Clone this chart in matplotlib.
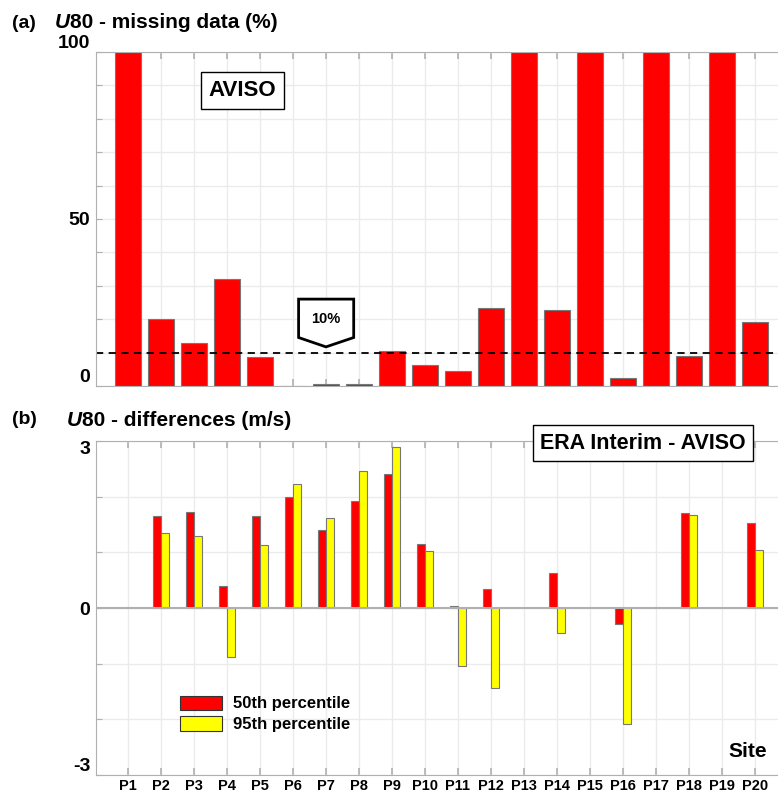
import numpy as np
import matplotlib.pyplot as plt
from matplotlib.patches import Polygon

plt.rcParams['font.family'] = ['Liberation Sans', 'DejaVu Sans']
plt.rcParams['font.weight'] = 'bold'

SITES = ["P%d" % i for i in range(1, 21)]

# U80 missing data (%) from AVISO
MISSING = [100, 20, 12.8, 32, 8.8, 0, 0.5, 0.5, 10.4, 6.3,
           4.6, 23.4, 100, 22.8, 100, 2.3, 100, 9.0, 100, 19.0]
THRESHOLD = 10

# ERA Interim - AVISO differences (m/s); None = no data
P50 = [None, 1.65, 1.72, 0.40, 1.65, 1.99, 1.40, 1.93, 2.41, 1.15,
       0.04, 0.34, None, 0.63, None, -0.29, None, 1.70, None, 1.53]
P95 = [None, 1.34, 1.29, -0.88, 1.13, 2.22, 1.61, 2.46, 2.90, 1.03,
       -1.05, -1.44, None, -0.44, None, -2.08, None, 1.67, None, 1.04]

GRID = '#ebebeb'
SPINE = '#b0b0b0'
EDGE = '#777777'

x = np.arange(1, len(SITES) + 1)

fig = plt.figure(figsize=(7.78, 7.94), dpi=100)
ax1 = fig.add_axes([0.1234, 0.5139, 0.8766, 0.4207])
ax2 = fig.add_axes([0.1234, 0.0239, 0.8766, 0.4207])


def style_axes(ax):
    ax.set_xlim(0.03, 20.7)
    ax.set_xticks(x)
    ax.grid(True, color=GRID, lw=1)
    ax.set_axisbelow(True)
    for side in ('top', 'left', 'bottom'):
        ax.spines[side].set_color(SPINE)
    ax.spines['right'].set_visible(False)
    ax.tick_params(axis='x', direction='in', top=True, bottom=True,
                   color=SPINE, length=5, width=1.2)
    ax.tick_params(axis='y', direction='in', left=True, right=False,
                   color=SPINE, length=4, labelsize=14, pad=4)


# (a) missing data
style_axes(ax1)
ax1.bar(x, MISSING, width=0.8, color='#ff0000', edgecolor=EDGE, lw=0.8)
ax1.set_ylim(0, 100)
ax1.set_yticks(np.arange(0, 101, 10))
ax1.set_yticklabels([str(v) if v in (0, 50, 100) else '' for v in range(0, 101, 10)])
ax1.get_yticklabels()[0].set_va('bottom')
ax1.get_yticklabels()[-1].set_va('bottom')
ax1.tick_params(axis='x', labelbottom=False)
ax1.axhline(THRESHOLD, color='black', ls=(0, (4, 3)), lw=1.3)

# callout marker pointing at the threshold line over P7
cx = 7
ax1.add_patch(Polygon([(cx - 0.83, THRESHOLD + 16), (cx + 0.84, THRESHOLD + 16),
                       (cx + 0.84, THRESHOLD + 4.5), (cx, THRESHOLD + 1.7),
                       (cx - 0.83, THRESHOLD + 4.5)],
                      closed=True, facecolor='white', edgecolor='black', lw=2, zorder=5))
ax1.text(cx, THRESHOLD + 10, '10%', ha='center', va='center', fontsize=10.5, zorder=6)

ax1.text(0.215, 0.885, 'AVISO', transform=ax1.transAxes, ha='center', va='center',
         fontsize=16, bbox=dict(boxstyle='square,pad=0.35', fc='white', ec='black', lw=1))

# (b) differences
style_axes(ax2)
w = 0.25
v50 = np.array([np.nan if v is None else v for v in P50])
v95 = np.array([np.nan if v is None else v for v in P95])
ax2.bar(x - w / 2, v50, width=w, color='#ff0000', edgecolor=EDGE, lw=0.8,
        label='50th percentile')
ax2.bar(x + w / 2, v95, width=w, color='#ffff00', edgecolor=EDGE, lw=0.8,
        label='95th percentile')
ax2.set_ylim(-3, 3)
ax2.set_yticks(np.arange(-3, 4, 1))
ax2.set_yticklabels(['-3', '', '', '0', '', '', '3'])
ax2.get_yticklabels()[0].set_va('bottom')
ax2.get_yticklabels()[-1].set_va('top')
ax2.axhline(0, color=SPINE, lw=1.5, zorder=1)
ax2.set_xticklabels(SITES, fontsize=10.5)
ax2.tick_params(axis='x', pad=3)

leg = ax2.legend(loc='upper left', bbox_to_anchor=(0.123, 0.238), frameon=False,
                 fontsize=12, borderpad=0, handlelength=2.5, handleheight=0.95,
                 handletextpad=0.7, labelspacing=0.3, borderaxespad=0)
for h in leg.legend_handles:
    h.set_edgecolor('#333333')

ax2.text(0.955, 0.07, 'Site', transform=ax2.transAxes, ha='center', va='center',
         fontsize=15)

fig.text(643 / 778, 1 - 443 / 794, 'ERA Interim - AVISO', ha='center', va='center',
         fontsize=15.5, bbox=dict(boxstyle='square,pad=0.35', fc='white', ec='black', lw=1))

# panel titles with italic U
for label, ytop, xU, rest in [('(a)', 23, 55, '80 - missing data (%)'),
                              ('(b)', 420, 67, '80 - differences (m/s)')]:
    yf = 1 - ytop / 794
    fig.text(12 / 778, yf, label, ha='left', va='center', fontsize=14)
    u = fig.text(xU / 778, yf, 'U', ha='left', va='center', fontsize=15, style='italic')
    fig.add_artist(plt.Annotation(rest, xy=(1, 0.5), xycoords=u, ha='left', va='center',
                                  fontsize=15, fontweight='bold'))

fig.savefig('out.png', dpi=100)
